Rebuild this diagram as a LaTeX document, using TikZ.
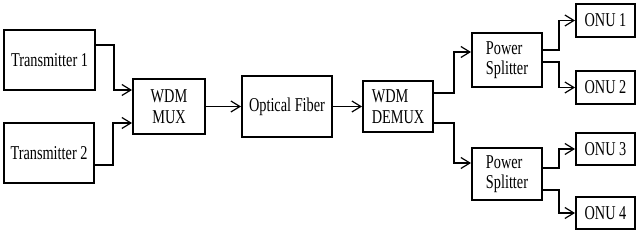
\documentclass[tikz,border=0pt]{standalone}
\usepackage{fontspec}
\setmainfont{Liberation Serif}[FakeStretch=0.73]
\usetikzlibrary{arrows.meta}

\begin{document}
\begin{tikzpicture}[x=0.5pt,y=-0.5pt,
  blk/.style={draw,line width=1pt,inner sep=0pt,align=center,
    font=\fontsize{9.8}{10.2}\selectfont},
  lnk/.style={line width=0.6pt,-{Straight Barb[length=4.5pt,width=5.5pt]}}]
\useasboundingbox (0,0) rectangle (640,234);
\node[blk,minimum width=45.5pt,minimum height=30pt] (T1) at (49.5,60) {Transmitter 1};
\node[blk,minimum width=45pt,minimum height=30pt] (T2) at (49,153) {Transmitter 2};
\node[blk,minimum width=36pt,minimum height=27.5pt] (M) at (169,106.5) {WDM\\MUX};
\node[blk,minimum width=45pt,minimum height=30.5pt] (F) at (287,106.5) {Optical Fiber};
\node[blk,align=left,minimum width=35pt,minimum height=25.5pt] (D) at (398,106.5) {WDM\\DEMUX};
\node[blk,align=left,minimum width=35pt,minimum height=27pt] (S1) at (507,60) {Power\\Splitter};
\node[blk,align=left,minimum width=35pt,minimum height=26pt] (S2) at (507,174) {Power\\Splitter};
\node[blk,minimum width=29.5pt,minimum height=16.5pt] (O1) at (605.5,20.5) {ONU 1};
\node[blk,minimum width=29.5pt,minimum height=16.5pt] (O2) at (605.5,87.5) {ONU 2};
\node[blk,minimum width=29.5pt,minimum height=16pt] (O3) at (605.5,149) {ONU 3};
\node[blk,minimum width=29.5pt,minimum height=16pt] (O4) at (605.5,213) {ONU 4};
\draw[lnk] ([yshift=7.5pt]T1.east) -- ++(18,0) |- ([yshift=8.25pt]M.west);
\draw[lnk] ([yshift=-6pt]T2.east) -- ++(18,0) |- ([yshift=-8.25pt]M.west);
\draw[lnk] (M) -- (F);
\draw[lnk] (F) -- (D);
\draw[lnk] ([yshift=6.75pt]D.east) -- ++(20,0) |- ([yshift=4pt]S1.west);
\draw[lnk] ([yshift=-8.25pt]D.east) -- ++(20,0) |- ([yshift=5.5pt]S2.west);
\draw[lnk] ([yshift=5pt]S1.east) -- ++(16,0) |- (O1.west);
\draw[lnk] ([yshift=-1pt]S1.east) -- ++(16,0) |- (O2.west);
\draw[lnk] ([yshift=3pt]S2.east) -- ++(16,0) |- (O3.west);
\draw[lnk] ([yshift=-8pt]S2.east) -- ++(16,0) |- (O4.west);
\end{tikzpicture}
\end{document}
